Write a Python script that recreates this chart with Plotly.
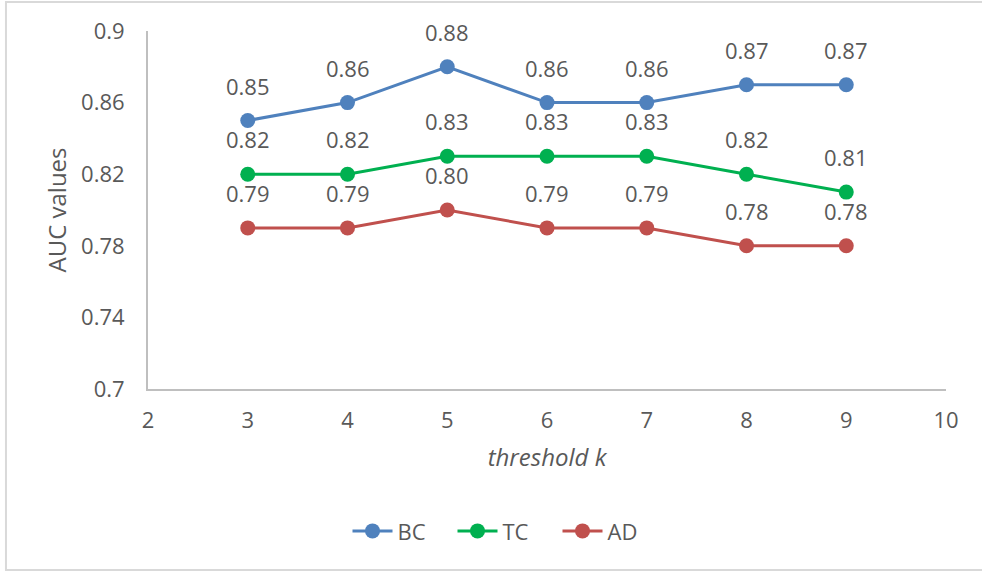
import plotly.graph_objects as go

# Threshold values and AUC results for each method
thresholds = [3, 4, 5, 6, 7, 8, 9]
bc_auc = [0.85, 0.86, 0.88, 0.86, 0.86, 0.87, 0.87]
tc_auc = [0.82, 0.82, 0.83, 0.83, 0.83, 0.82, 0.81]
ad_auc = [0.79, 0.79, 0.80, 0.79, 0.79, 0.78, 0.78]

series_names = ["BC", "TC", "AD"]
series_values = [bc_auc, tc_auc, ad_auc]
series_colors = ["#4F81BD", "#00B050", "#C0504D"]

x_ticks = [2, 3, 4, 5, 6, 7, 8, 9, 10]
y_ticks = [0.70, 0.74, 0.78, 0.82, 0.86, 0.90]
y_tick_text = ["0.7", "0.74", "0.78", "0.82", "0.86", "0.9"]

FONT = "'Open Sans', Lato, sans-serif"
TEXT_COLOR = "#595959"

fig = go.Figure()
annotations = []
for name, vals, color in zip(series_names, series_values, series_colors):
    fig.add_trace(go.Scatter(
        x=thresholds, y=vals, name=name, mode="lines+markers",
        line=dict(color=color, width=3),
        marker=dict(color=color, size=15),
    ))
    for xv, yv in zip(thresholds, vals):
        annotations.append(dict(
            x=xv, y=yv, xref="x", yref="y", text=f"{yv:.2f}",
            showarrow=False, yshift=35,
            font=dict(family=FONT, size=22, color=TEXT_COLOR),
        ))

fig.update_layout(
    width=982, height=571,
    margin=dict(l=148, r=36, t=31, b=182),
    paper_bgcolor="white", plot_bgcolor="white",
    font=dict(family=FONT, size=22, color=TEXT_COLOR),
    showlegend=True,
    legend=dict(
        orientation="h", x=0.25, xanchor="left", y=-0.397, yanchor="middle",
        font=dict(family=FONT, size=22, color=TEXT_COLOR),
        itemwidth=40, entrywidth=50, entrywidthmode="pixels",
        traceorder="normal",
    ),
    annotations=annotations,
    xaxis=dict(
        range=[2, 10], tickvals=x_ticks, showgrid=False, zeroline=False,
        showline=True, linecolor="#BFBFBF", linewidth=2, ticks="",
        ticklabelstandoff=11,
        title=dict(text="<i>threshold k</i>", standoff=16,
                   font=dict(family=FONT, size=24, color=TEXT_COLOR)),
    ),
    yaxis=dict(
        range=[0.70, 0.90], tickvals=y_ticks, ticktext=y_tick_text,
        showgrid=False, zeroline=False,
        showline=True, linecolor="#BFBFBF", linewidth=2, ticks="",
        ticklabelstandoff=17,
        title=dict(text="AUC values", standoff=8,
                   font=dict(family=FONT, size=24, color=TEXT_COLOR)),
    ),
    shapes=[dict(
        type="rect", xref="paper", yref="paper",
        x0=-0.178, x1=1.05, y0=-0.5056, y1=1.081,
        line=dict(color="#D9D9D9", width=2), fillcolor="rgba(0,0,0,0)",
        layer="below",
    )],
)

fig.write_html("out.html")
